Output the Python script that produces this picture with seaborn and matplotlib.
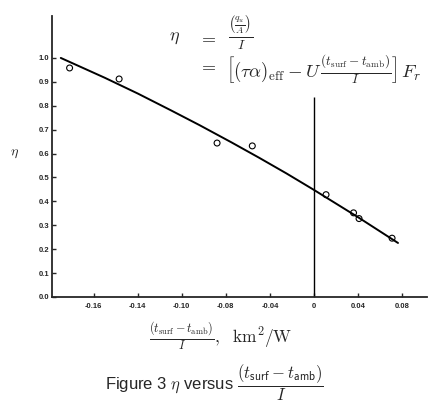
import matplotlib
matplotlib.use("Agg")
import matplotlib.pyplot as plt
import seaborn as sns
import pandas as pd

# measured points (x in axis units, y = efficiency)
obs_x = [-0.222, -0.177, -0.088, -0.056, 0.011, 0.036, 0.041, 0.071]
obs_y = [0.958, 0.912, 0.644, 0.632, 0.428, 0.352, 0.328, 0.246]

# fitted curve as drawn in the figure
fit_x = [-0.230, -0.190, -0.160, -0.130, -0.104, -0.075, -0.050, -0.025, 0.000, 0.040, 0.0764]
fit_y = [1.000, 0.917, 0.851, 0.781, 0.719, 0.647, 0.583, 0.517, 0.448, 0.334, 0.226]

# vertical reference line at zero
zero_x = 0.0
zero_top = 0.837

x_ticks = [-0.20, -0.16, -0.12, -0.08, -0.04, 0.0, 0.04, 0.08]
x_tick_labels = ["-0.16", "-0.14", "-0.10", "-0.08", "-0.04", "0", "0.04", "0.08"]
y_ticks = [0.0, 0.1, 0.2, 0.3, 0.4, 0.5, 0.6, 0.7, 0.8, 0.9, 1.0]
y_tick_labels = ["0.0", "0.1", "0.2", "0.3", "0.4", "0.5", "0.6", "0.7", "0.8", "0.9", "1.0"]

sns.set_style("ticks")
plt.rcParams["font.family"] = ["Liberation Sans", "DejaVu Sans"]
plt.rcParams["mathtext.fontset"] = "cm"

fig = plt.figure(figsize=(4.35, 4.11), dpi=100)
ax = fig.add_axes([0.1195, 0.2774, 0.862, 0.684])

df_obs = pd.DataFrame({"x": obs_x, "y": obs_y})
df_fit = pd.DataFrame({"x": fit_x, "y": fit_y})

sns.lineplot(data=df_fit, x="x", y="y", sort=False, color="black", linewidth=1.4, ax=ax)
sns.scatterplot(data=df_obs, x="x", y="y", marker="o", s=18, facecolor="none",
                edgecolor="black", linewidth=0.8, ax=ax, zorder=3)
ax.vlines(zero_x, 0, zero_top, color="black", linewidth=1.0)

ax.set_xlim(-0.238, 0.1027)
ax.set_ylim(0, 1.176)
ax.set_xticks(x_ticks)
ax.set_xticklabels(x_tick_labels)
ax.set_yticks(y_ticks)
ax.set_yticklabels(y_tick_labels)
ax.tick_params(direction="in", length=3, width=1.0, labelsize=5.5, pad=4)
for lab in ax.get_xticklabels() + ax.get_yticklabels():
    lab.set_fontweight("bold")
ax.tick_params(axis="y", pad=2)

sns.despine(ax=ax)
for sp in ["left", "bottom"]:
    ax.spines[sp].set_linewidth(1.3)

ax.set_xlabel("")
ax.set_ylabel("")

# y axis symbol
fig.text(15 / 435, 1 - 153 / 411, r"$\eta$", fontsize=10, ha="center", va="center")

# equation block
fig.text(175 / 435, 1 - 38 / 411, r"$\eta$", fontsize=13, ha="center", va="center")
fig.text(207 / 435, 1 - 38 / 411, r"$=$", fontsize=13, ha="center", va="center")
fig.text(207 / 435, 1 - 66 / 411, r"$=$", fontsize=13, ha="center", va="center")
fig.text(228 / 435, 1 - 33 / 411, r"$\frac{\left(\frac{q_u}{A}\right)}{I}$", fontsize=14,
         ha="left", va="center")
fig.text(226 / 435, 1 - 69 / 411,
         r"$\left[(\tau\alpha)_{\mathrm{eff}} - U\,\frac{(t_{\mathrm{surf}} - t_{\mathrm{amb}})}{I}\right]\,F_r$",
         fontsize=13.5, ha="left", va="center")

# x label
fig.text(221 / 435, 1 - 337 / 411,
         r"$\frac{(t_{\mathrm{surf}} - t_{\mathrm{amb}})}{I},\ \ \mathrm{km}^2/\mathrm{W}$",
         fontsize=12.5, ha="center", va="center")

# caption
fig.text(105 / 435, 1 - 383 / 411,
         r"Figure 3 $\eta$ versus $\dfrac{(t_{\mathsf{surf}} - t_{\mathsf{amb}})}{I}$",
         fontsize=12, ha="left", va="center")

fig.savefig("out.png", dpi=100)
